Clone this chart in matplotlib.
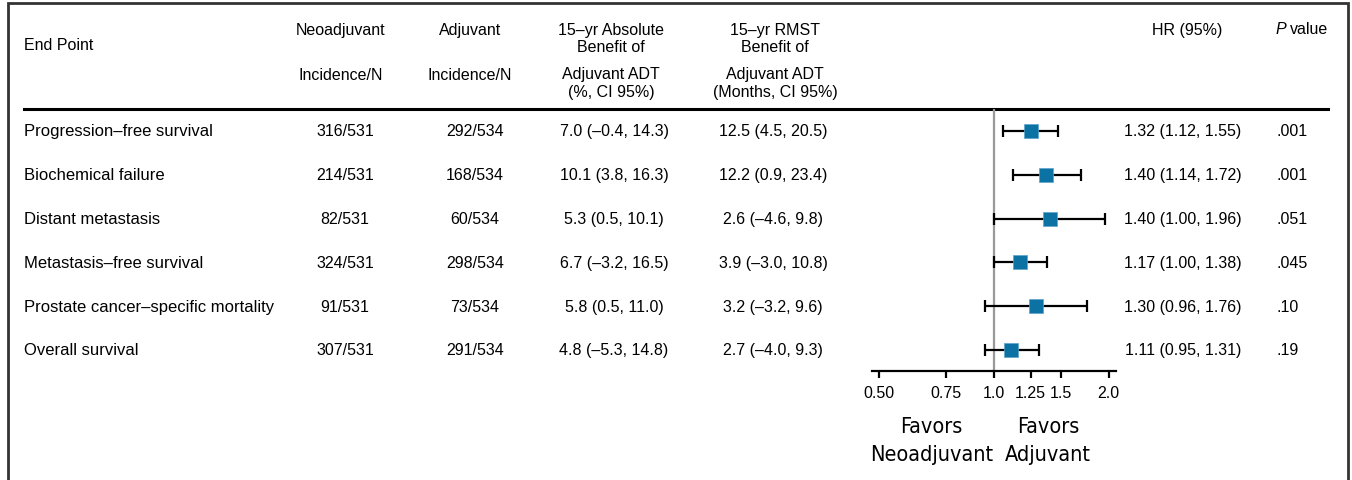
import matplotlib

matplotlib.use("Agg")
import matplotlib.pyplot as plt
from matplotlib import font_manager
from matplotlib.ticker import NullLocator, FixedLocator, FixedFormatter

plt.rcParams["font.family"] = ["Liberation Sans", "DejaVu Sans"]

# дані таблиці
endpoints = [
    "Progression–free survival",
    "Biochemical failure",
    "Distant metastasis",
    "Metastasis–free survival",
    "Prostate cancer–specific mortality",
    "Overall survival",
]
neo_incidence = ["316/531", "214/531", "82/531", "324/531", "91/531", "307/531"]
adj_incidence = ["292/534", "168/534", "60/534", "298/534", "73/534", "291/534"]
abs_benefit = ["7.0 (–0.4, 14.3)", "10.1 (3.8, 16.3)", "5.3 (0.5, 10.1)",
               "6.7 (–3.2, 16.5)", "5.8 (0.5, 11.0)", "4.8 (–5.3, 14.8)"]
rmst_benefit = ["12.5 (4.5, 20.5)", "12.2 (0.9, 23.4)", "2.6 (–4.6, 9.8)",
                "3.9 (–3.0, 10.8)", "3.2 (–3.2, 9.6)", "2.7 (–4.0, 9.3)"]
hr_text = ["1.32 (1.12, 1.55)", "1.40 (1.14, 1.72)", "1.40 (1.00, 1.96)",
           "1.17 (1.00, 1.38)", "1.30 (0.96, 1.76)", "1.11 (0.95, 1.31)"]
p_values = [".001", ".001", ".051", ".045", ".10", ".19"]

# значення, як вони намальовані на графіку
hr = [1.25, 1.37, 1.40, 1.17, 1.29, 1.11]
hr_lo = [1.06, 1.12, 1.00, 1.00, 0.95, 0.95]
hr_hi = [1.47, 1.69, 1.96, 1.38, 1.76, 1.31]
ticks = [0.50, 0.75, 1.0, 1.25, 1.5, 2.0]
tick_labels = ["0.50", "0.75", "1.0", "1.25", "1.5", "2.0"]

W, H = 1352, 481
fig = plt.figure(figsize=(W / 100, H / 100), dpi=100)

# основна вісь у пікселях для таблиці
ax = fig.add_axes([0, 0, 1, 1])
ax.set_xlim(0, W)
ax.set_ylim(H, 0)
ax.axis("off")

border = "#333333"
ax.plot([8, 8, 1348, 1348], [H, 4, 4, H], color=border, lw=2, solid_joinstyle="miter")
ax.plot([24, 1328], [110, 110], color="black", lw=2.2)

fs = 11.5
# заголовки
ax.text(24, 45, "End Point", fontsize=fs, ha="left", va="center")
ax.text(341, 30, "Neoadjuvant", fontsize=fs, ha="center", va="center")
ax.text(341, 75, "Incidence/N", fontsize=fs, ha="center", va="center")
ax.text(470, 30, "Adjuvant", fontsize=fs, ha="center", va="center")
ax.text(470, 75, "Incidence/N", fontsize=fs, ha="center", va="center")
ax.text(611, 30, "15–yr Absolute", fontsize=fs, ha="center", va="center")
ax.text(611, 48, "Benefit of", fontsize=fs, ha="center", va="center")
ax.text(611, 75, "Adjuvant ADT", fontsize=fs, ha="center", va="center")
ax.text(611, 93, "(%, CI 95%)", fontsize=fs, ha="center", va="center")
ax.text(775, 30, "15–yr RMST", fontsize=fs, ha="center", va="center")
ax.text(775, 48, "Benefit of", fontsize=fs, ha="center", va="center")
ax.text(775, 75, "Adjuvant ADT", fontsize=fs, ha="center", va="center")
ax.text(775, 93, "(Months, CI 95%)", fontsize=fs, ha="center", va="center")
ax.text(1187, 30, "HR (95%)", fontsize=fs, ha="center", va="center")
ax.text(1276, 30, "P", fontsize=fs, ha="left", va="center", style="italic")
ax.text(1290, 30, "value", fontsize=fs, ha="left", va="center")

# рядки
row_y0, row_dy = 132, 43.8
for i in range(len(endpoints)):
    y = row_y0 + i * row_dy
    ax.text(24, y, endpoints[i], fontsize=12, ha="left", va="center")
    ax.text(345, y, neo_incidence[i], fontsize=fs, ha="center", va="center")
    ax.text(475, y, adj_incidence[i], fontsize=fs, ha="center", va="center")
    ax.text(614, y, abs_benefit[i], fontsize=fs, ha="center", va="center")
    ax.text(773, y, rmst_benefit[i], fontsize=fs, ha="center", va="center")
    ax.text(1183, y, hr_text[i], fontsize=fs, ha="center", va="center")
    ax.text(1277, y, p_values[i], fontsize=fs, ha="left", va="center")

# лісовий графік
left, right, top, bottom = 872, 1116, 110, 372
axf = fig.add_axes([left / W, 1 - bottom / H, (right - left) / W, (bottom - top) / H])
axf.set_xscale("log")
axf.set_xlim(0.48, 2.09)
n = len(hr)
rows = list(range(n))
axf.set_ylim(n - 1 + (bottom - (row_y0 + (n - 1) * row_dy)) / row_dy,
             -(row_y0 - top) / row_dy)
axf.axvline(1.0, color="#999999", lw=1.6, zorder=1)
err_lo = [h - l for h, l in zip(hr, hr_lo)]
err_hi = [u - h for h, u in zip(hr, hr_hi)]
axf.errorbar(hr, rows, xerr=[err_lo, err_hi], fmt="none", ecolor="black",
             elinewidth=1.6, capsize=4, capthick=1.6, zorder=2)
axf.plot(hr, rows, "s", color="#0c72a3", markersize=9.5,
         markeredgecolor="#5aa5cc", markeredgewidth=0.5, zorder=3)
for s in ["top", "left", "right"]:
    axf.spines[s].set_visible(False)
axf.spines["bottom"].set_linewidth(1.6)
axf.set_yticks([])
axf.set_facecolor("none")
axf.xaxis.set_major_locator(FixedLocator(ticks))
axf.xaxis.set_major_formatter(FixedFormatter(tick_labels))
axf.xaxis.set_minor_locator(NullLocator())
axf.tick_params(axis="x", length=5, width=1.6, pad=5, labelsize=11.5)

# вузький шрифт для підписів "Favors", якщо є
condensed = [f for f in font_manager.fontManager.ttflist
             if f.stretch in ("condensed", "semi-condensed", "extra-condensed")
             or "Condensed" in f.name or "Narrow" in f.name]
if condensed:
    fav_kw = dict(family=[condensed[0].name, "DejaVu Sans"],
                  fontstretch=condensed[0].stretch, fontsize=15.5)
else:
    fav_kw = dict(fontsize=14)
ax.text(931, 427, "Favors", ha="center", va="center", **fav_kw)
ax.text(932, 455, "Neoadjuvant", ha="center", va="center", **fav_kw)
ax.text(1048, 427, "Favors", ha="center", va="center", **fav_kw)
ax.text(1048, 455, "Adjuvant", ha="center", va="center", **fav_kw)

fig.savefig("out.png", dpi=100)
plt.close(fig)
